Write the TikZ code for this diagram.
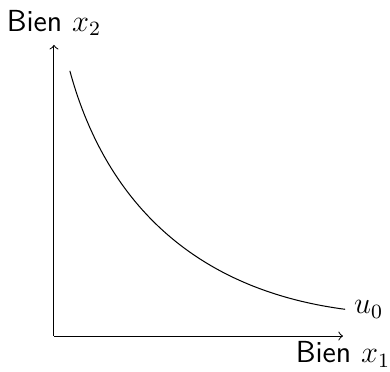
\documentclass[tikz,border=0pt]{standalone}
\begin{document}
\begin{tikzpicture}[x=1cm,y=1cm,
  axislabel/.style={font=\large\sffamily},
  curvelabel/.style={font=\large}]
\useasboundingbox (-0.747,-0.484) rectangle (4.651,4.651);
\coordinate (O) at (0,0);
\coordinate (X) at (4,0);
\coordinate (Y) at (0,4.03);
\coordinate (A) at (0.22,3.67);
\coordinate (B) at (4.03,0.37);
\draw[->] (O) -- (X) node[below, axislabel, inner sep=2pt] (xl) {Bien $x_1$};
\draw[->] (O) -- (Y) node[above, axislabel] (yl) {Bien $x_2$};
\draw (A) .. controls (0.7,1.9) and (1.9,0.65) .. (B)
  node[right, curvelabel] (u) {$u_0$};
\end{tikzpicture}
\end{document}
